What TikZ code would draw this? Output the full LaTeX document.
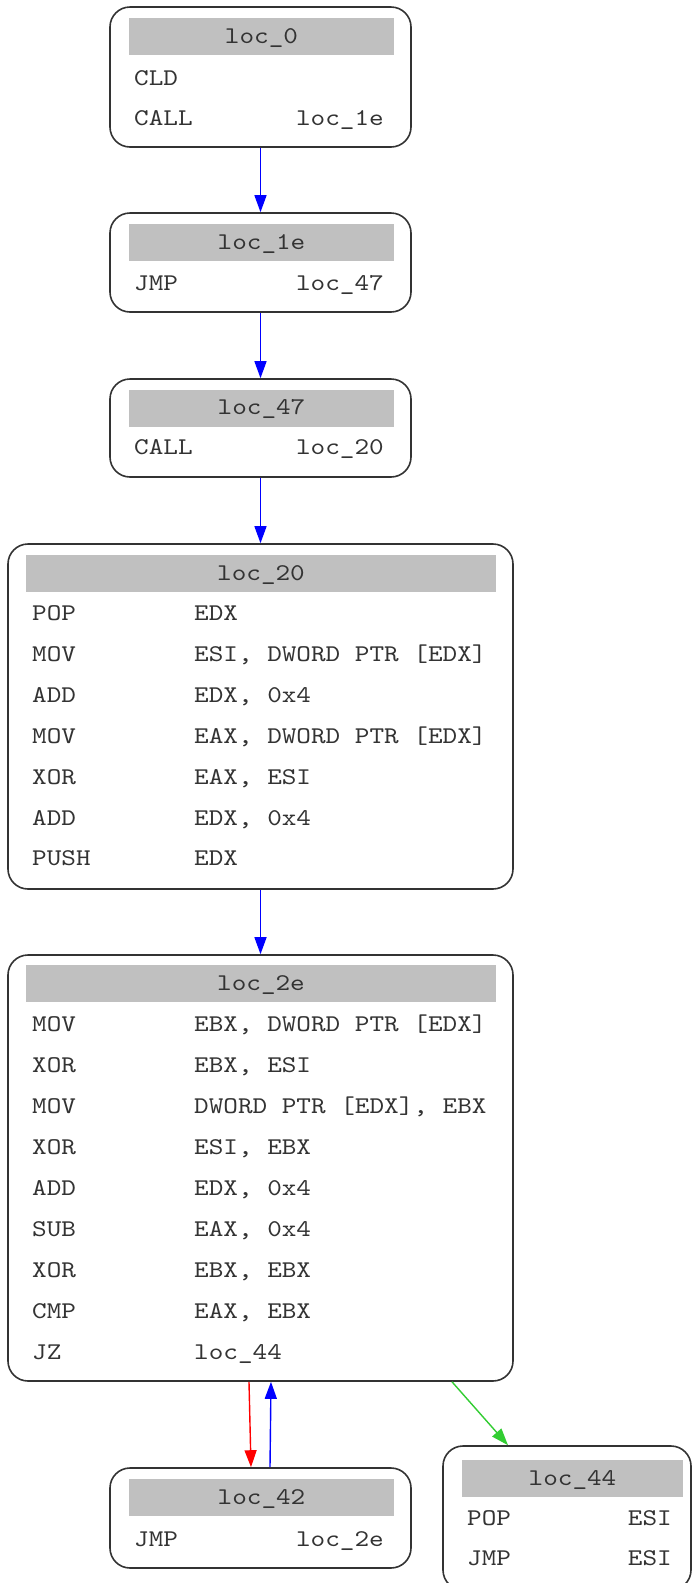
\documentclass[tikz,border=0pt]{standalone}
\usepackage{fontspec}
\newfontfamily\codefont[FakeStretch=1.16]{lmmono10-regular.otf}
\usetikzlibrary{arrows.meta,calc}
\definecolor{txtc}{HTML}{333333}
\definecolor{brd}{HTML}{333333}
\definecolor{hdrc}{HTML}{C0C0C0}
\definecolor{edgegreen}{HTML}{32CD32}
\tikzset{
  blk/.style={draw=brd, line width=1.6pt, rounded corners=20pt, fill=white, inner sep=0pt},
  hdr/.style={fill=hdrc, inner sep=0pt, text=txtc, font=\codefont\fontsize{24}{24}\selectfont, text height=15pt, text depth=2pt},
  ins/.style={inner sep=0pt, text=txtc, font=\codefont\fontsize{24}{24}\selectfont, text height=15pt, text depth=0pt, anchor=west},
  insr/.style={ins, anchor=east},
  flow/.style={line width=1.4pt, -{Triangle[length=17pt,width=12pt]}}
}
\begin{document}
\begin{tikzpicture}[x=1pt,y=-1pt]
\useasboundingbox (0,0) rectangle (695,1583);
\clip (0,0) rectangle (695,1583);
\fill[white] (0,0) rectangle (695,1583);

% loc_0
\node[blk, minimum width=301pt, minimum height=140pt] (b0) at (260.5,77) {};
\node[hdr, minimum width=265pt, minimum height=37pt] (h0) at (261.5,36.5) {loc\_0};
\node[ins] (t0a) at (134,78) {CLD};
\node[ins] (t0b) at (134,118) {CALL};
\node[insr] (t0c) at (384,118) {loc\_1e};

% loc_1e
\node[blk, minimum width=301pt, minimum height=99pt] (b1e) at (260.5,262.5) {};
\node[hdr, minimum width=265pt, minimum height=37pt] (h1e) at (261.5,242.5) {loc\_1e};
\node[ins] (t1a) at (134,283) {JMP};
\node[insr] (t1b) at (384,283) {loc\_47};

% loc_47
\node[blk, minimum width=301pt, minimum height=98pt] (b47) at (260.5,428) {};
\node[hdr, minimum width=265pt, minimum height=37pt] (h47) at (261.5,408) {loc\_47};
\node[ins] (t47a) at (134,447) {CALL};
\node[insr] (t47b) at (384,447) {loc\_20};

% loc_20
\node[blk, minimum width=505pt, minimum height=345pt] (b20) at (260.5,716.5) {};
\node[hdr, minimum width=470pt, minimum height=37pt] (h20) at (261,573.5) {loc\_20};
\node[ins] (r20a) at (32,613) {POP};   \node[ins] (s20a) at (194,613) {EDX};
\node[ins] (r20b) at (32,654) {MOV};   \node[ins] (s20b) at (194,654) {ESI, DWORD PTR [EDX]};
\node[ins] (r20c) at (32,695) {ADD};   \node[ins] (s20c) at (194,695) {EDX, 0x4};
\node[ins] (r20d) at (32,736) {MOV};   \node[ins] (s20d) at (194,736) {EAX, DWORD PTR [EDX]};
\node[ins] (r20e) at (32,777) {XOR};   \node[ins] (s20e) at (194,777) {EAX, ESI};
\node[ins] (r20f) at (32,818) {ADD};   \node[ins] (s20f) at (194,818) {EDX, 0x4};
\node[ins] (r20g) at (32,858) {PUSH};  \node[ins] (s20g) at (194,858) {EDX};

% loc_2e
\node[blk, minimum width=505pt, minimum height=426pt] (b2e) at (260.5,1168) {};
\node[hdr, minimum width=470pt, minimum height=37pt] (h2e) at (261,983.5) {loc\_2e};
\node[ins] (r2ea) at (32,1024) {MOV};  \node[ins] (s2ea) at (194,1024) {EBX, DWORD PTR [EDX]};
\node[ins] (r2eb) at (32,1065) {XOR};  \node[ins] (s2eb) at (194,1065) {EBX, ESI};
\node[ins] (r2ec) at (32,1106) {MOV};  \node[ins] (s2ec) at (194,1106) {DWORD PTR [EDX], EBX};
\node[ins] (r2ed) at (32,1147) {XOR};  \node[ins] (s2ed) at (194,1147) {ESI, EBX};
\node[ins] (r2ee) at (32,1188) {ADD};  \node[ins] (s2ee) at (194,1188) {EDX, 0x4};
\node[ins] (r2ef) at (32,1229) {SUB};  \node[ins] (s2ef) at (194,1229) {EAX, 0x4};
\node[ins] (r2eg) at (32,1270) {XOR};  \node[ins] (s2eg) at (194,1270) {EBX, EBX};
\node[ins] (r2eh) at (32,1311) {CMP};  \node[ins] (s2eh) at (194,1311) {EAX, EBX};
\node[ins] (r2ei) at (32,1352) {JZ};   \node[ins] (s2ei) at (194,1352) {loc\_44};

% loc_42
\node[blk, minimum width=301pt, minimum height=100pt] (b42) at (260.5,1518) {};
\node[hdr, minimum width=265pt, minimum height=37pt] (h42) at (261.5,1497.5) {loc\_42};
\node[ins] (t42a) at (134,1539) {JMP};
\node[insr] (t42b) at (384,1539) {loc\_2e};

% loc_44
\node[blk, minimum width=248pt, minimum height=144pt] (b44) at (567,1518) {};
\node[hdr, minimum width=221pt, minimum height=37pt] (h44) at (572.5,1478.5) {loc\_44};
\node[ins] (t44a) at (467,1518) {POP};
\node[insr] (t44b) at (672,1518) {ESI};
\node[ins] (t44c) at (467,1558) {JMP};
\node[insr] (t44d) at (672,1558) {ESI};

% edges
\draw[flow, blue] (b0.south) -- (b1e.north);
\draw[flow, blue] (b1e.south) -- (b47.north);
\draw[flow, blue] (b47.south) -- (b20.north);
\draw[flow, blue] (b20.south) -- (b2e.north);
\draw[flow, red] ($(b2e.south)+(-11.5,0)$) -- ($(b42.north)+(-9.5,0)$);
\draw[flow, blue] ($(b42.north)+(9.5,0)$) -- ($(b2e.south)+(10.5,0)$);
\draw[flow, edgegreen] ($(b2e.south)+(191.5,0)$) -- ($(b44.north)+(-59,0)$);
\end{tikzpicture}
\end{document}
